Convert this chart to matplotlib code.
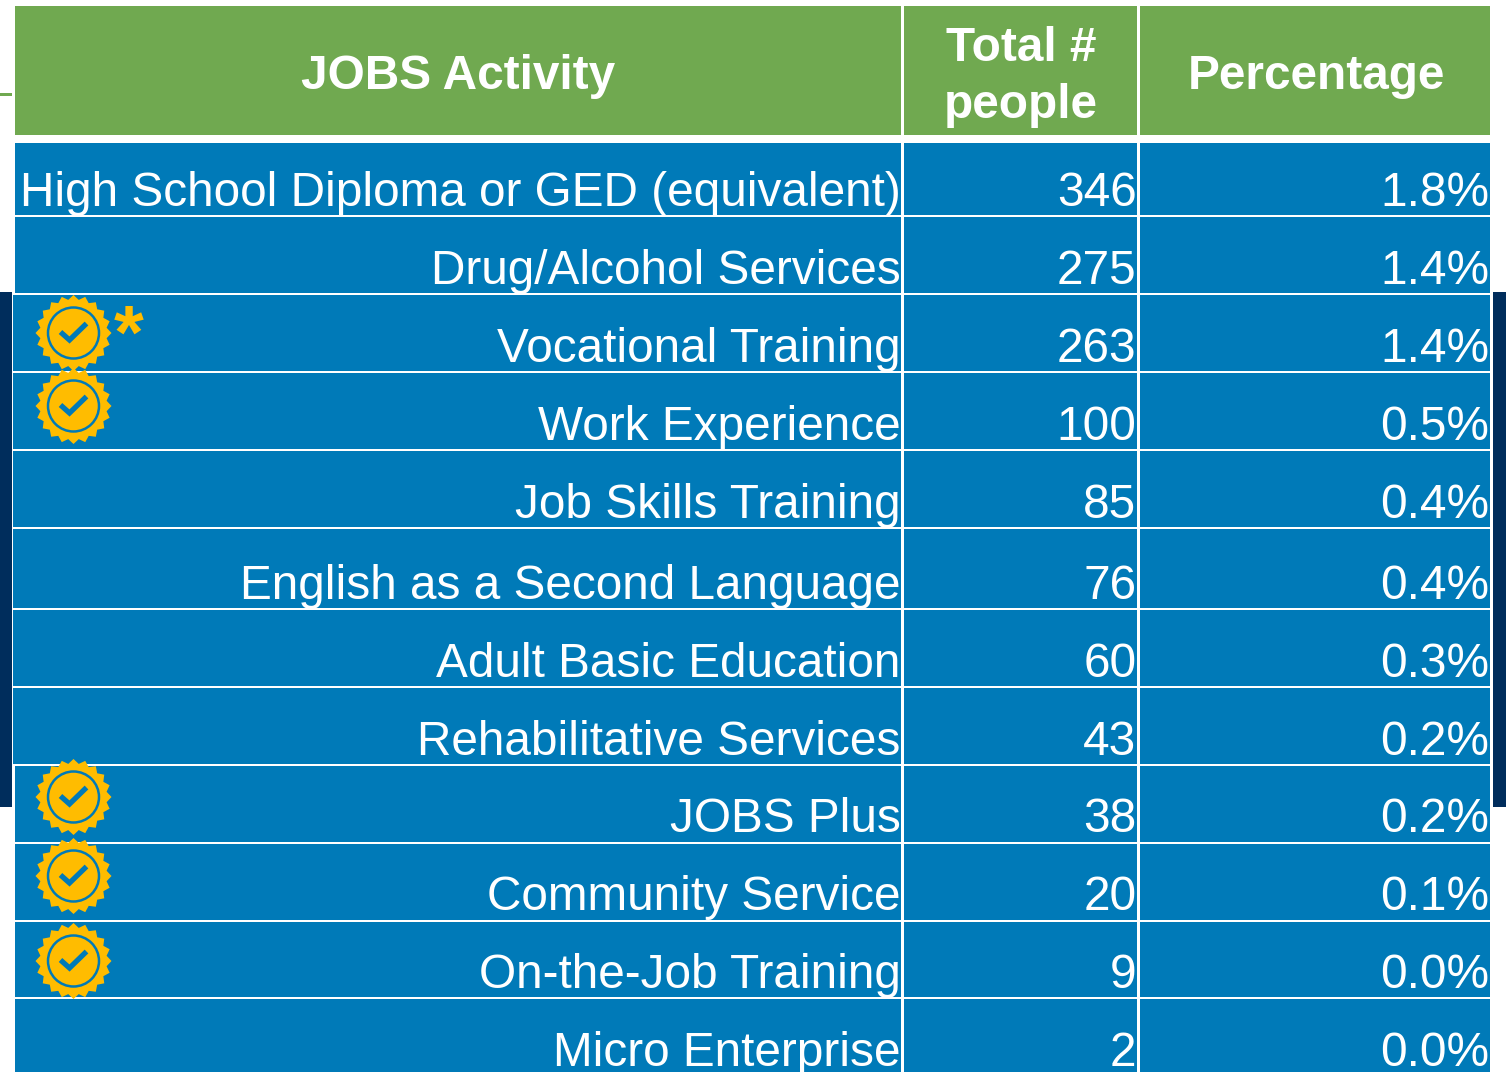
import numpy as np
import matplotlib
matplotlib.use("Agg")
import matplotlib.pyplot as plt
from matplotlib.patches import Rectangle, Circle, Polygon

plt.rcParams['font.family'] = ['Liberation Sans', 'DejaVu Sans']

headers = ["JOBS Activity", "Total #\npeople", "Percentage"]
activities = ["High School Diploma or GED (equivalent)", "Drug/Alcohol Services", "Vocational Training",
              "Work Experience", "Job Skills Training", "English as a Second Language",
              "Adult Basic Education", "Rehabilitative Services", "JOBS Plus", "Community Service",
              "On-the-Job Training", "Micro Enterprise"]
totals = [346, 275, 263, 100, 85, 76, 60, 43, 38, 20, 9, 2]
percents = [1.8, 1.4, 1.4, 0.5, 0.4, 0.4, 0.3, 0.2, 0.2, 0.1, 0.0, 0.0]

W, H = 1506, 1072
GREEN, BLUE, NAVY, GOLD = '#70A950', '#007AB8', '#002D5C', '#FFBC00'
row_lines = [143, 216, 294, 372, 450, 528, 609, 687, 765, 843, 921, 998, 1072]
baselines = [206, 284, 362, 440, 518, 599, 677, 755, 832, 910, 988, 1066]
badges = [(73.5, 333), (73.5, 406), (73.5, 797), (73.5, 876), (73.5, 961)]

fig = plt.figure(figsize=(W / 100, H / 100), dpi=100, facecolor='white')
ax = fig.add_axes([0, 0, 1, 1])
ax.set_xlim(0, W); ax.set_ylim(H, 0); ax.axis('off')

def rect(x0, y0, x1, y1, c, z=1):
    ax.add_patch(Rectangle((x0, y0), x1 - x0, y1 - y0, fc=c, ec='none', zorder=z))

rect(0, 292, 12, 807, NAVY)
rect(1493, 292, W, 807, NAVY)
rect(0, 92.5, 12, 95.5, GREEN)
rect(15, 6, 1490, 135, GREEN)
rect(15, 143, 1490, H, BLUE)
rect(13, 294, 15, 765, BLUE)

for y in row_lines[1:-1]:
    rect(13 if 294 <= y <= 765 else 15, y - 1.4, 1492, y + 1.4, 'white', 2)
for x in (902.5, 1138.5):
    rect(x - 1.4, 0, x + 1.4, H, 'white', 2)
rect(0, 135, W, 143, 'white', 2)
rect(0, 0, W, 6, 'white', 2)

hs = 34.4
ax.text(458.5, 76.5, headers[0], color='white', fontsize=hs, fontweight='bold', ha='center', va='center', zorder=5)
ax.text(1021, 77, headers[1], color='white', fontsize=hs, fontweight='bold', ha='center', va='center', linespacing=1.36, zorder=5)
ax.text(1316, 76.5, headers[2], color='white', fontsize=hs, fontweight='bold', ha='center', va='center', zorder=5)

fs = 34.42
for a, t, p, b in zip(activities, totals, percents, baselines):
    ax.text(900.5, b, a, color='white', fontsize=fs, ha='right', va='baseline', zorder=5)
    ax.text(1136.5, b, str(t), color='white', fontsize=fs, ha='right', va='baseline', zorder=5)
    ax.text(1489.5, b, f"{p:.1f}%", color='white', fontsize=fs, ha='right', va='baseline', zorder=5)

def badge(cx, cy):
    n = 20
    ang = np.linspace(0, 2 * np.pi, 2 * n, endpoint=False)
    rad = np.where(np.arange(2 * n) % 2 == 0, 38, 33.5)
    ax.add_patch(Polygon(np.c_[cx + rad * np.cos(ang), cy + rad * np.sin(ang)], fc=GOLD, ec='none', zorder=3))
    ax.add_patch(Circle((cx, cy), 25.5, fc=GOLD, ec=BLUE, lw=1.8, zorder=4))
    ax.plot([cx - 13, cx - 4, cx + 13], [cy - 1, cy + 7, cy - 9.5], color=BLUE, lw=3.8,
            solid_joinstyle='miter', solid_capstyle='butt', zorder=4)

for cx, cy in badges:
    badge(cx, cy)

ax.text(128.5, 338, "*", color=GOLD, fontsize=55, fontweight='bold', ha='center', va='center', zorder=5)

fig.savefig('out.png', dpi=100, facecolor='white')
